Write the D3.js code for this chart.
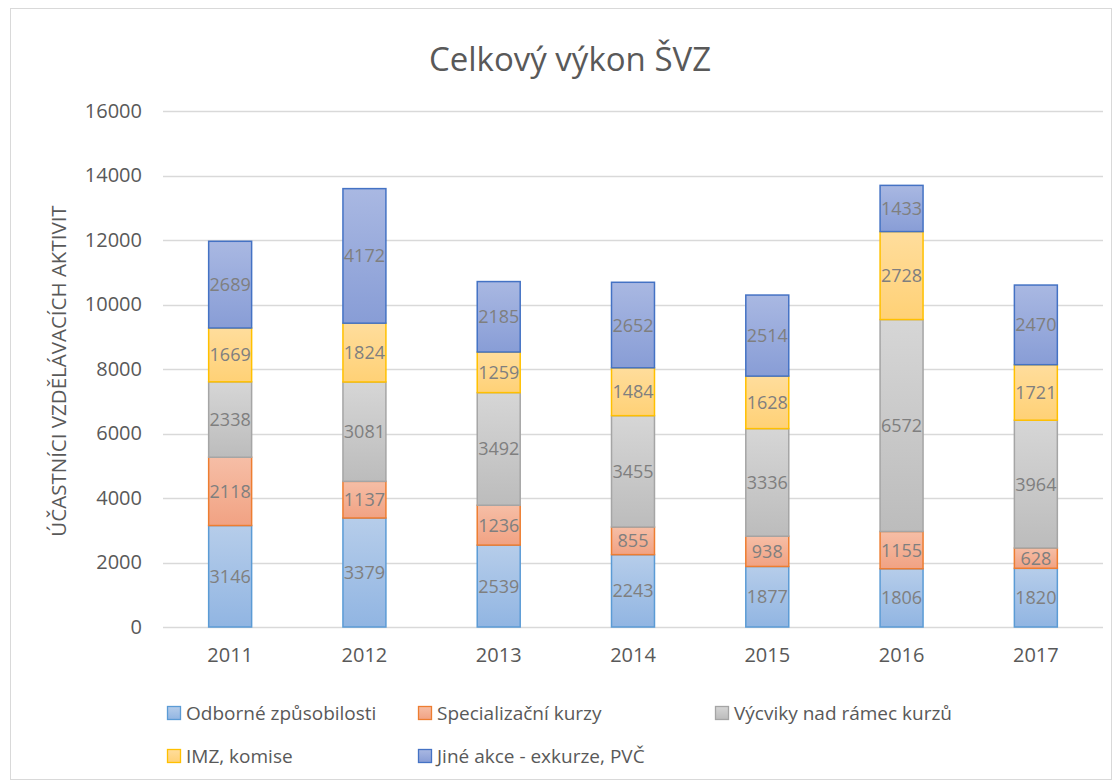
<!DOCTYPE html>
<html>
<head>
<meta charset="utf-8">
<script src="https://cdn.jsdelivr.net/npm/d3@7"></script>
<style>
  html, body { margin: 0; padding: 0; background: #fff; }
  svg { display: block; font-family: "Open Sans", "Noto Sans", sans-serif; }
</style>
</head>
<body>
<div id="chart"></div>
<script>
// Celkový výkon ŠVZ — skládaný sloupcový graf
const years = ['2011', '2012', '2013', '2014', '2015', '2016', '2017'];
const seriesNames = ['Odborné způsobilosti', 'Specializační kurzy', 'Výcviky nad rámec kurzů', 'IMZ, komise', 'Jiné akce - exkurze, PVČ'];
const odborne = [3146, 3379, 2539, 2243, 1877, 1806, 1820];
const specializacni = [2118, 1137, 1236, 855, 938, 1155, 628];
const vycviky = [2338, 3081, 3492, 3455, 3336, 6572, 3964];
const imz = [1669, 1824, 1259, 1484, 1628, 2728, 1721];
const jine = [2689, 4172, 2185, 2652, 2514, 1433, 2470];
const yTicks = [0, 2000, 4000, 6000, 8000, 10000, 12000, 14000, 16000];

const seriesValues = [odborne, specializacni, vycviky, imz, jine];
// horní barva, dolní barva, okraj
const fills = [
  ['#b6cdea', '#91b5e2', '#5b9bd5'],
  ['#f6bea6', '#f1a283', '#ed7d31'],
  ['#d6d6d6', '#bcbcbc', '#a5a5a5'],
  ['#ffdd9c', '#ffd176', '#ffc000'],
  ['#a9b8e2', '#889dd6', '#4472c4'],
];

const W = 1120, H = 783;
const margin = { left: 163, right: 17, top: 111, bottom: 156 };

const svg = d3.select('#chart').append('svg').attr('width', W).attr('height', H);

// rámeček grafu
svg.append('rect')
  .attr('x', 10.5).attr('y', 8.5).attr('width', W - 19).attr('height', H - 12)
  .attr('fill', '#fff').attr('stroke', '#d9d9d9').attr('stroke-width', 1);

const defs = svg.append('defs');
fills.forEach((f, i) => {
  const g = defs.append('linearGradient').attr('id', 'grad' + i)
    .attr('x1', 0).attr('y1', 0).attr('x2', 0).attr('y2', 1);
  g.append('stop').attr('offset', '0%').attr('stop-color', f[0]);
  g.append('stop').attr('offset', '100%').attr('stop-color', f[1]);
});

const x = d3.scaleBand().domain(years).range([margin.left, W - margin.right]).paddingInner(0.68).paddingOuter(0.34);
const y = d3.scaleLinear().domain([0, 16000]).range([H - margin.bottom, margin.top]);

// mřížka
svg.append('g').selectAll('line').data(yTicks).join('line')
  .attr('x1', margin.left).attr('x2', W - margin.right)
  .attr('y1', d => Math.round(y(d)) + 0.5).attr('y2', d => Math.round(y(d)) + 0.5)
  .attr('stroke', '#d9d9d9').attr('stroke-width', 1.3);

// popisky osy y
const yAxis = svg.append('g').attr('transform', `translate(${margin.left - 21},0)`)
  .call(d3.axisLeft(y).tickValues(yTicks).tickFormat(d3.format('d')).tickSize(0).tickPadding(0));
yAxis.attr('font-family', null).attr('font-size', null);
yAxis.select('.domain').remove();
yAxis.selectAll('text').attr('fill', '#595959').attr('font-size', 20);

// popisky osy x
const xAxis = svg.append('g').attr('transform', `translate(0,${H - margin.bottom + 21})`)
  .call(d3.axisBottom(x).tickSize(0).tickPadding(0));
xAxis.attr('font-family', null).attr('font-size', null);
xAxis.select('.domain').remove();
xAxis.selectAll('text').attr('fill', '#595959').attr('font-size', 20).attr('dy', '0.71em');

// data pro skládání
const table = years.map((yr, i) => {
  const row = { year: yr };
  seriesNames.forEach((s, j) => { row[s] = seriesValues[j][i]; });
  return row;
});
const stacked = d3.stack().keys(seriesNames)(table);

const layers = svg.append('g').selectAll('g').data(stacked).join('g');
layers.each(function (layer, li) {
  d3.select(this).selectAll('rect').data(layer).join('rect')
    .attr('x', d => x(d.data.year))
    .attr('y', d => y(d[1]))
    .attr('width', x.bandwidth())
    .attr('height', d => y(d[0]) - y(d[1]))
    .attr('fill', `url(#grad${li})`)
    .attr('stroke', fills[li][2]).attr('stroke-width', 1.5);
});
layers.each(function (layer) {
  d3.select(this).selectAll('text').data(layer).join('text')
    .attr('x', d => x(d.data.year) + x.bandwidth() / 2)
    .attr('y', d => (y(d[0]) + y(d[1])) / 2)
    .attr('dy', '0.36em')
    .attr('text-anchor', 'middle')
    .attr('font-size', 18)
    .attr('fill', '#7f7f7f')
    .text(d => d[1] - d[0]);
});

// nadpis
svg.append('text').attr('x', 570).attr('y', 71).attr('text-anchor', 'middle')
  .attr('font-size', 33).attr('fill', '#595959').text('Celkový výkon ŠVZ');

// název osy y
svg.append('text')
  .attr('transform', `translate(66,${y(8000) + 2}) rotate(-90)`)
  .attr('text-anchor', 'middle')
  .attr('font-size', 20.5).attr('fill', '#595959')
  .text('ÚČASTNÍCI VZDĚLÁVACÍCH AKTIVIT');

// legenda
const legendPos = [[167, 713], [418, 713], [715, 713], [167, 756], [418, 756]];
const legend = svg.append('g').selectAll('g').data(seriesNames).join('g')
  .attr('transform', (d, i) => `translate(${legendPos[i][0]},${legendPos[i][1]})`);
legend.append('rect')
  .attr('x', 0.5).attr('y', -6.5).attr('width', 13).attr('height', 13)
  .attr('fill', (d, i) => `url(#grad${i})`)
  .attr('stroke', (d, i) => fills[i][2]).attr('stroke-width', 1.3);
legend.append('text').attr('x', 19).attr('dy', '0.35em')
  .attr('font-size', 19).attr('fill', '#595959').text(d => d);
</script>
</body>
</html>
